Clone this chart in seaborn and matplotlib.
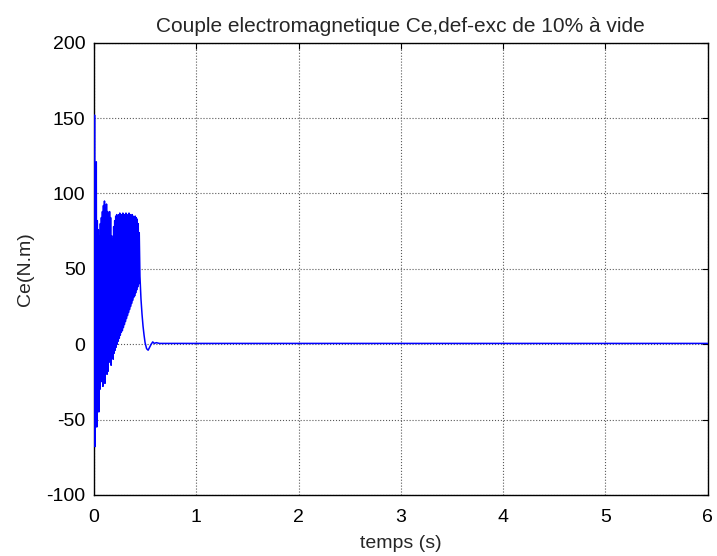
import pandas as pd
import matplotlib
matplotlib.use("Agg")
import matplotlib.pyplot as plt
import seaborn as sns

# temps (s) et couple Ce (N.m)
temps = [0.000, 0.006, 0.010, 0.014, 0.018, 0.023, 0.028, 0.033, 0.038, 0.043,
         0.048, 0.053, 0.058, 0.063, 0.068, 0.073, 0.078, 0.083, 0.088, 0.093,
         0.098, 0.103, 0.108, 0.113, 0.118, 0.123, 0.128, 0.133, 0.138, 0.143,
         0.148, 0.153, 0.158, 0.163, 0.168, 0.173, 0.178, 0.183, 0.188, 0.193,
         0.198, 0.203, 0.208, 0.213, 0.218, 0.223, 0.228, 0.233, 0.238, 0.243,
         0.248, 0.253, 0.258, 0.263, 0.268, 0.273, 0.278, 0.283, 0.288, 0.293,
         0.298, 0.303, 0.308, 0.313, 0.318, 0.323, 0.328, 0.333, 0.338, 0.343,
         0.348, 0.353, 0.358, 0.363, 0.368, 0.373, 0.378, 0.383, 0.388, 0.393,
         0.398, 0.403, 0.408, 0.413, 0.418, 0.423, 0.428, 0.433, 0.438, 0.443,
         0.450, 0.460, 0.470, 0.480, 0.490, 0.500, 0.515, 0.530, 0.545, 0.560,
         0.575, 0.590, 0.610, 0.640, 6.000]
couple = [0, 152, -68, 110, -40, 121, -55, 82, -38, 76,
          -45, 72, -30, 80, -25, 84, -22, 88, -28, 92,
          -20, 95, -26, 90, -15, 93, -20, 88, -18, 86,
          -12, 88, -10, 84, -14, 72, -8, 70, -10, 78,
          -6, 82, -4, 85, -2, 86, 0, 84, 2, 86,
          4, 87, 6, 85, 8, 86, 9, 87, 11, 85,
          13, 86, 15, 87, 17, 86, 19, 85, 21, 87,
          23, 86, 25, 85, 27, 86, 29, 85, 31, 84,
          32, 85, 34, 84, 36, 83, 38, 80, 40, 74,
          45, 30, 20, 12, 6, 1, -3, -4, -2, 0,
          1.5, 0.5, 1, 0.5, 0.5]

df = pd.DataFrame({"temps (s)": temps, "Ce(N.m)": couple})

sns.set_style("white")
plt.rcParams["font.family"] = ["Liberation Sans", "DejaVu Sans"]
plt.rcParams["axes.unicode_minus"] = False

fig = plt.figure(figsize=(7.17, 5.56), dpi=100)
ax = fig.add_axes([0.131, 0.110, 0.856, 0.813])

sns.lineplot(data=df, x="temps (s)", y="Ce(N.m)", color="#0000ff",
             linewidth=1.1, estimator=None, sort=False, ax=ax, zorder=3)

ax.set_xlim(0, 6)
ax.set_ylim(-100, 200)
ax.set_xticks(range(0, 7))
ax.set_yticks(range(-100, 201, 50))
ax.grid(True, linestyle=":", color="0.35", linewidth=0.8)
ax.tick_params(direction="in", top=True, right=True, length=4, width=0.8,
               labelsize=14, colors="black")
ax.tick_params(axis="x", pad=10)
ax.tick_params(axis="y", pad=6)
for s in ax.spines.values():
    s.set_color("black")
    s.set_linewidth(1.0)

ax.set_title("Couple electromagnetique Ce,def-exc de 10% à vide", fontsize=15, pad=8)
ax.set_xlabel("temps (s)", fontsize=14, labelpad=7)
ax.set_ylabel("Ce(N.m)", fontsize=14, labelpad=9)

fig.savefig("out.png", dpi=100)
